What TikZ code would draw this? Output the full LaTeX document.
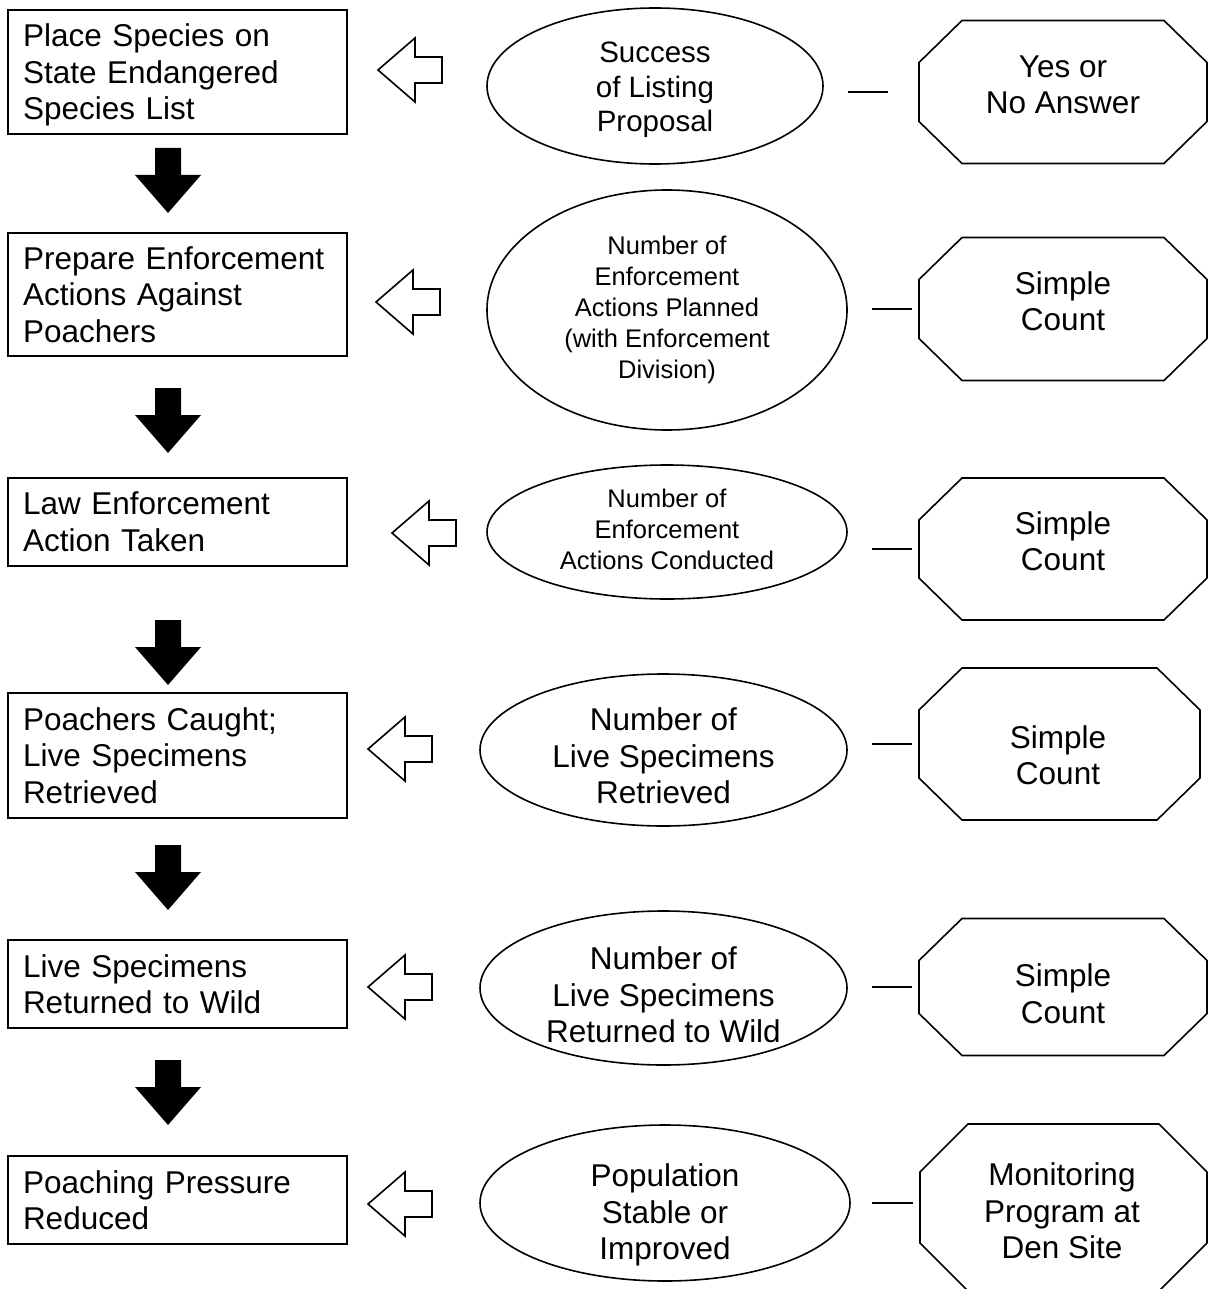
\documentclass[tikz,border=0pt]{standalone}
\usepackage{fontspec}
\setmainfont{Liberation Sans}
\usetikzlibrary{shapes.geometric,calc}
\begin{document}
\begin{tikzpicture}[x=1pt,y=-1pt,
  every node/.style={inner sep=0pt, outer sep=0pt},
  bigtext/.style={font=\fontsize{31.5}{36.5}\selectfont},
  midtext/.style={font=\fontsize{29.5}{34.5}\selectfont},
  smalltext/.style={font=\fontsize{25.5}{31}\selectfont},
  stepbox/.style={bigtext, draw, line width=1.8pt, rectangle,
    minimum width=339pt, text width=309pt, align=left},
  measure/.style={draw, line width=1.6pt, ellipse},
  measuretext/.style={bigtext, align=center},
  octtext/.style={bigtext, align=center},
  octframe/.style n args={4}{rectangle,
    minimum width=#1pt+4pt, minimum height=#2pt+4pt,
    path picture={
      \draw[line width=1.6pt]
        ($(path picture bounding box.north west)+(2+#3,2)$) --
        ($(path picture bounding box.north east)+(-2-#3,2)$) --
        ($(path picture bounding box.north east)+(-2,2+#4)$) --
        ($(path picture bounding box.south east)+(-2,-2-#4)$) --
        ($(path picture bounding box.south east)+(-2-#3,-2)$) --
        ($(path picture bounding box.south west)+(2+#3,-2)$) --
        ($(path picture bounding box.south west)+(2,-2-#4)$) --
        ($(path picture bounding box.north west)+(2,2+#4)$) -- cycle;
    }},
  tie/.style={line width=1.8pt},
  hollow/.style={draw, fill=white, line width=1.6pt, line join=miter},
  backarrow/.pic={
    \path[hollow] (0,0) -- (37,-32) -- (37,-13) -- (64,-13) -- (64,13)
      -- (37,13) -- (37,32) -- cycle;},
  flowarrow/.pic={
    \fill (-13,0) -- (13,0) -- (13,27) -- (33,27) -- (0,65) -- (-33,27)
      -- (-13,27) -- cycle;}
]
\useasboundingbox (0,0) rectangle (1210,1289);

% chain of steps
\node[stepbox, minimum height=124pt] (s1) at (177.5,72)
  {Place Species on\\State Endangered\\S\smash{p}ecies List};
\node[stepbox, minimum height=123pt] (s2) at (177.5,294.5)
  {Prepare Enforcement\\Actions Against\\Poachers};
\node[stepbox, minimum height=88pt] (s3) at (177.5,522)
  {Law Enforcement\\Action Taken};
\node[stepbox, minimum height=125pt] (s4) at (177.5,755.5)
  {Poachers Caught;\\Live Specimens\\Retrieved};
\node[stepbox, minimum height=88pt] (s5) at (177.5,984)
  {Live Specimens\\Returned to Wild};
\node[stepbox, minimum height=88pt] (s6) at (177.5,1200)
  {Poaching Pressure\\Reduced};

% flow between steps
\pic at (168,148) {flowarrow};
\pic at (168,388) {flowarrow};
\pic at (168,620) {flowarrow};
\pic at (168,845) {flowarrow};
\pic at (168,1060) {flowarrow};

% indicators
\node[measure, minimum width=336pt, minimum height=156pt] (e1) at (655,86) {};
\node[measuretext, midtext] (m1) at (655,90) {Success\\of Listing\\Proposal};
\node[measure, minimum width=360pt, minimum height=240pt] (e2) at (667,310) {};
\node[measuretext, smalltext] (m2) at (667,310)
  {Number of\\Enforcement\\Actions Planned\\(with Enforcement\\Division)};
\node[measure, minimum width=360pt, minimum height=134pt] (e3) at (667,532) {};
\node[measuretext, smalltext] (m3) at (667,529)
  {Number of\\Enforcement\\Actions Conducted};
\node[measure, minimum width=367pt, minimum height=152pt] (e4) at (663.5,750) {};
\node[measuretext] (m4) at (663.5,756) {Number of\\Live Specimens\\Retrieved};
\node[measure, minimum width=367pt, minimum height=154pt] (e5) at (663.5,988) {};
\node[measuretext] (m5) at (663.5,995) {Number of\\Live Specimens\\Returned to Wild};
\node[measure, minimum width=370pt, minimum height=156pt] (e6) at (665,1203) {};
\node[measuretext] (m6) at (665,1215) {Population\\Stable or\\Improved};

% indicators feed back to the steps
\pic at (378,70) {backarrow};
\pic at (376,302) {backarrow};
\pic at (392,533) {backarrow};
\pic at (368,749) {backarrow};
\pic at (368,987) {backarrow};
\pic at (368,1204) {backarrow};

% measurement methods
\node[octframe={288}{143}{43}{42}] (f1) at (1063,92) {};
\node[octtext] (o1) at (1063,85) {Yes or\\No Answer};
\node[octframe={288}{143}{43}{42}] (f2) at (1063,309) {};
\node[octtext] (o2) at (1063,301) {Simple\\Count};
\node[octframe={288}{142}{43}{42}] (f3) at (1063,549) {};
\node[octtext] (o3) at (1063,541) {Simple\\Count};
\node[octframe={281}{152}{43}{42}] (f4) at (1059.5,744) {};
\node[octtext] (o4) at (1058,755) {Simple\\Count};
\node[octframe={288}{137}{43}{42}] (f5) at (1063,987) {};
\node[octtext] (o5) at (1063,993.5) {Simple\\Count};
\node[octframe={287}{167}{48}{48}] (f6) at (1063.5,1207.5) {};
\node[octtext] (o6) at (1062,1211) {Monitoring\\Program at\\Den Site};

% links between indicators and methods
\draw[tie, shorten <=25pt, shorten >=29pt] (e1.east |- f1.west) -- (f1.west);
\draw[tie, shorten <=25pt, shorten >=5pt] (e2.east |- f2.west) -- (f2.west);
\draw[tie, shorten <=25pt, shorten >=5pt] (e3.east |- f3.west) -- (f3.west);
\draw[tie, shorten <=25pt, shorten >=5pt] (e4.east |- f4.west) -- (f4.west);
\draw[tie, shorten <=25pt, shorten >=5pt] (e5.east |- f5.west) -- (f5.west);
\draw[tie, shorten <=22pt, shorten >=5pt] (e6.east) -- (e6.east -| f6.west);
\end{tikzpicture}
\end{document}
